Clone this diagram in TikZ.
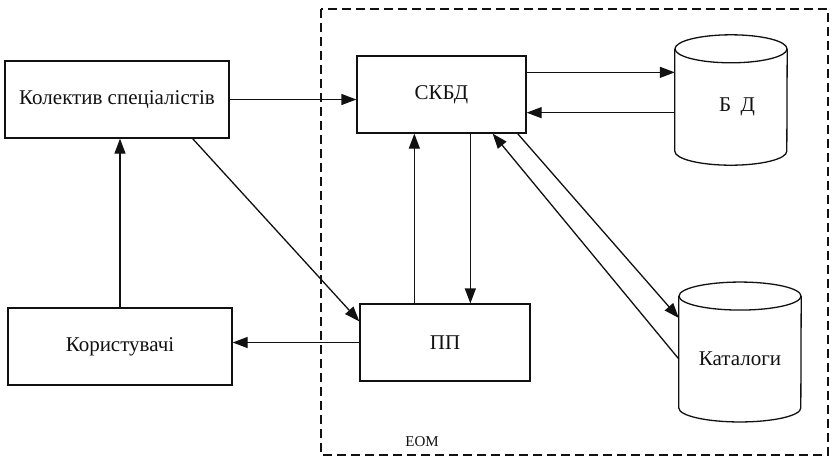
\documentclass[tikz,border=0pt]{standalone}
\usepackage{fontspec}
\setmainfont{Liberation Serif}
\usetikzlibrary{positioning, arrows.meta, calc}
\definecolor{ink}{HTML}{111111}

\begin{document}
\begin{tikzpicture}[
  x=1pt, y=-1pt,
  every node/.style={font=\fontsize{21}{25}\selectfont, text=ink},
  >={Triangle[length=15pt, width=11pt]},
  box/.style={
    draw=ink, line width=1.3pt,
    minimum width=224pt, minimum height=77pt,
    inner sep=0pt, align=center
  },
  store/.style={inner sep=0pt, align=center},
  arrow/.style={->, line width=1.3pt, draw=ink},
  frame/.style={draw=ink, line width=1.2pt, dash pattern=on 9pt off 5pt}
]
\useasboundingbox (0,0) rectangle (837,459);

% Outer blocks
\node[box] (team)  at (117,99.5)  {Колектив спеціалістів};
\node[box] (users) at (120,346.5) {Користувачі};

% Computer
\draw[frame] (321,9) rectangle (828,455);
\node[font=\fontsize{15}{18}\selectfont] (eom) at (422,442) {ЕОМ};

\node[box, minimum width=169pt] (dbms) at (441.5,94.5) {СКБД};
\node[box, minimum width=170pt] (app)  at (445,342.5)  {ПП};

% Stores
\node[store, minimum width=112pt, minimum height=116pt] (bd)  at (731,107) {\hspace*{12pt}Б\hspace{0.45em}Д};
\node[store, minimum width=122pt, minimum height=125.5pt] (cat) at (740,359) {Каталоги};

\foreach \n/\r in {bd/56pt, cat/61pt} {
  \draw[line width=1.3pt, draw=ink] (\n.north west) -- ($(\n.south west)+(0,-14)$)
    arc[start angle=180, end angle=360, x radius=\r, y radius=14pt]
    -- (\n.north east);
  \draw[line width=1.3pt, draw=ink] (\n.north) ellipse[x radius=\r, y radius=14pt];
}

% Helper points
\coordinate (d1) at ($(dbms.north east)+(0,17)$);
\coordinate (d2) at ($(dbms.south east)+(0,-21)$);
\coordinate (up)   at ($(app.north west)+(55,0)$);
\coordinate (down) at ($(dbms.south west)+(114,0)$);

% Arrows
\draw[arrow] (team.east) -- (team.east -| dbms.west);
\draw[arrow] (d1) -- (d1 -| bd.west);
\draw[arrow] (d2 -| bd.west) -- (d2);
\draw[arrow] (up) -- (up |- dbms.south);
\draw[arrow] (down) -- (down |- app.north);
\draw[arrow] ($(dbms.south east)+(-9,0)$) -- ($(cat.west)+(0,-41)$);
\draw[arrow] (cat.west) -- ($(dbms.south east)+(-34,0)$);
\draw[arrow] ($(team.south east)+(-37,0)$) -- ($(app.north west)+(0,18)$);
\draw[arrow] (users.north) -- (users.north |- team.south);
\draw[arrow] (app.west) -- (app.west -| users.east);

\end{tikzpicture}
\end{document}
